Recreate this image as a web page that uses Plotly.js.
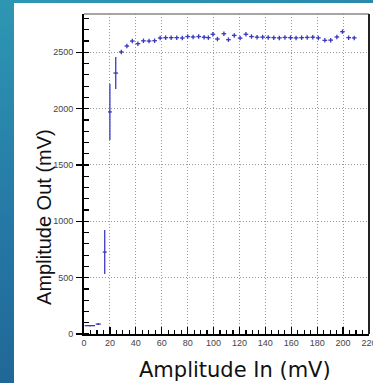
<!DOCTYPE html>
<html>
<head>
<meta charset="utf-8">
<script src="https://cdn.plot.ly/plotly-3.0.1.min.js"></script>
<style>
html,body{margin:0;padding:0;width:373px;height:383px;overflow:hidden;
 background:linear-gradient(165deg,#2e97b3 0%,#2579a6 45%,#1d5d90 100%);}
#chart{position:absolute;left:14px;top:3px;width:359px;height:380px;background:#fff;}
</style>
</head>
<body>
<div id="chart"></div>
<script>
const xTitle = "Amplitude In (mV)";
const yTitle = "Amplitude Out (mV)";
const ampIn = [4.5, 11, 16, 20, 24.5, 28.8, 33.1, 37.3, 41.6, 45.9, 50.2, 54.5, 58.8, 63, 67.3, 71.6, 75.9,
  80, 84.2, 88.5, 92.7, 96, 99.5, 103, 108, 111.5, 116, 120.5, 125,
  129.3, 133.6, 137.9, 142.2, 146.5, 150.8, 155.1, 159.4, 163.7, 168, 172.3, 176.6, 180.9,
  185.9, 190.4, 195.2, 199.5, 204.3, 208.6];
const ampOut = [74, 88, 727, 1971, 2316, 2503, 2556, 2600, 2577, 2602, 2600, 2603, 2627, 2630, 2630, 2630, 2627,
  2640, 2636, 2640, 2634, 2630, 2660, 2618, 2665, 2612, 2650, 2626, 2660,
  2640, 2634, 2635, 2632, 2630, 2628, 2632, 2630, 2628, 2630, 2632, 2634, 2628,
  2606, 2608, 2636, 2683, 2630, 2628];
const errIn = [4, 2, 1.5, 1.5, 1.8, 1.8, 1.8, 1.8, 1.8, 1.8, 1.8, 1.8, 1.8, 1.8, 1.8, 1.8, 1.8,
  1.8, 1.8, 1.8, 1.8, 1.8, 1.8, 1.8, 1.8, 1.8, 1.8, 1.8, 1.8,
  1.8, 1.8, 1.8, 1.8, 1.8, 1.8, 1.8, 1.8, 1.8, 1.8, 1.8, 1.8, 1.8,
  1.8, 1.8, 1.8, 1.8, 1.8, 1.8];
const errOut = [6, 8, 195, 250, 142, 20, 20, 20, 20, 20, 20, 20, 20, 20, 20, 20, 20,
  20, 20, 20, 20, 20, 20, 20, 20, 20, 20, 20, 20,
  20, 20, 20, 20, 20, 20, 20, 20, 20, 20, 20, 20, 20,
  20, 20, 20, 20, 20, 20];
const xTicks = [0, 20, 40, 60, 80, 100, 120, 140, 160, 180, 200, 220];
const yTicks = [0, 500, 1000, 1500, 2000, 2500];

const blue = '#3a3abf';
const trace = {
  x: ampIn, y: ampOut, type: 'scatter', mode: 'markers',
  marker: {symbol: 'line-ew', size: 1, color: blue, line: {color: blue, width: 1}},
  error_x: {type: 'data', array: errIn, visible: true, color: blue, thickness: 1.3, width: 0},
  error_y: {type: 'data', array: errOut, visible: true, color: blue, thickness: 1.3, width: 0},
  showlegend: false, hoverinfo: 'x+y'
};
const tickFont = {family: 'Liberation Sans, Arial, sans-serif', size: 9, color: '#444'};
const layout = {
  width: 359, height: 380,
  margin: {l: 70, r: 4, t: 11, b: 49},
  paper_bgcolor: '#fff', plot_bgcolor: '#fff',
  xaxis: {
    range: [0, 220], tickvals: xTicks, ticktext: xTicks.map(String),
    showgrid: true, gridcolor: '#999', griddash: '1px,2px', gridwidth: 1,
    zeroline: false, showline: true, linecolor: '#000', linewidth: 2,
    ticks: 'inside', ticklen: 7, tickcolor: '#000', tickwidth: 1.3,
    minor: {dtick: 5, ticks: 'inside', ticklen: 4, tickcolor: '#000', tickwidth: 1.2, showgrid: false},
    tickfont: tickFont, ticklabelstandoff: -1, ticklabeloverflow: 'allow'
  },
  yaxis: {
    range: [0, 2840], tickvals: yTicks, ticktext: yTicks.map(String),
    showgrid: true, gridcolor: '#999', griddash: '1px,2px', gridwidth: 1,
    zeroline: false, showline: true, linecolor: '#000', linewidth: 2,
    ticks: 'outside', ticklen: 6, tickcolor: '#000', tickwidth: 1.3,
    minor: {dtick: 100, ticks: 'inside', ticklen: 5, tickcolor: '#000', tickwidth: 1.2, showgrid: false},
    tickfont: tickFont, ticklabelstandoff: 1
  },
  shapes: [
    {type: 'line', xref: 'paper', yref: 'paper', x0: 0, x1: 1, y0: 1, y1: 1, line: {color: '#888', width: 1.5}},
    {type: 'line', xref: 'paper', yref: 'paper', x0: 1, x1: 1, y0: 0, y1: 1, line: {color: '#222', width: 2}}
  ],
  annotations: [
    {text: xTitle, xref: 'paper', yref: 'paper', x: 0.53, y: 0, yshift: -36, xanchor: 'center', yanchor: 'middle',
     showarrow: false, font: {family: 'DejaVu Sans, sans-serif', size: 21, color: '#111'}},
    {text: yTitle, xref: 'paper', yref: 'paper', x: 0, y: 0.366, xshift: -40, xanchor: 'center', yanchor: 'middle',
     textangle: -90, showarrow: false, font: {family: 'Liberation Sans, Arial, sans-serif', size: 20, color: '#111'}}
  ]
};
Plotly.newPlot('chart', [trace], layout, {displayModeBar: false, staticPlot: true});
</script>
</body>
</html>
